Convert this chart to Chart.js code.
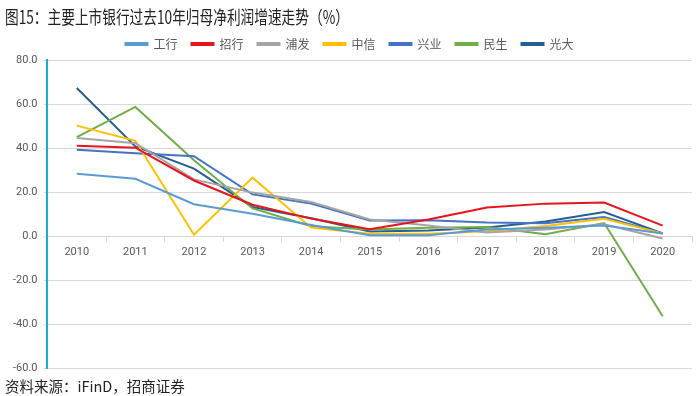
<!DOCTYPE html>
<html>
<head>
<meta charset="utf-8">
<style>
    body { margin: 0; width: 700px; height: 396px; background: #fff; position: relative; overflow: hidden; font-family: "Noto Sans CJK SC", "Noto Sans", sans-serif; }
    #title { position: absolute; left: 5px; top: 3px; font-size: 18px; color: #222; transform: scaleX(0.76); transform-origin: left top; white-space: nowrap; }
    #source { position: absolute; left: 5px; top: 375px; font-size: 14.5px; color: #222; white-space: nowrap; }
    #chartBox { position: absolute; left: 0; top: 24px; width: 700px; height: 357px; }
</style>
</head>
<body>
<div id="chartBox"><canvas id="profitChart"></canvas></div>
<div id="title">图15：主要上市银行过去10年归母净利润增速走势（%）</div>
<div id="source">资料来源：iFinD，招商证券</div>
<script src="https://cdn.jsdelivr.net/npm/chart.js"></script>
<script>
    var years = ['2010', '2011', '2012', '2013', '2014', '2015', '2016', '2017', '2018', '2019', '2020'];
    var icbc = [28.4, 26.1, 14.5, 10.2, 5.1, 0.5, 0.4, 3.0, 3.9, 4.9, 1.2];       // 工行
    var cmb = [41.1, 40.2, 25.3, 14.3, 8.0, 3.2, 7.6, 13.0, 14.8, 15.3, 4.8];      // 招行
    var spdb = [44.6, 42.2, 25.8, 19.8, 15.5, 7.6, 4.9, 1.7, 3.1, 5.4, -1.0];     // 浦发
    var citic = [50.2, 43.3, 0.7, 26.6, 3.9, 1.1, 1.1, 2.3, 4.6, 7.9, 1.3];       // 中信
    var cib = [39.3, 37.7, 36.3, 19.0, 14.8, 7.1, 7.3, 6.2, 5.9, 8.7, 1.2];       // 兴业
    var cmbc = [45.0, 58.7, 34.5, 12.6, 4.5, 3.0, 3.8, 4.2, 0.9, 6.0, -36.3];     // 民生
    var ceb = [67.3, 40.8, 30.7, 13.3, 8.2, 2.2, 2.6, 4.0, 6.7, 11.0, 1.3];       // 光大

    function series(label, data, color) {
        return { label: label, data: data, borderColor: color, backgroundColor: color,
                 borderWidth: 2, pointRadius: 0, tension: 0, fill: false };
    }

    var ctx = document.getElementById('profitChart').getContext('2d');
    new Chart(ctx, {
        type: 'line',
        data: {
            labels: years,
            datasets: [
                series('工行', icbc, '#5B9BD5'),
                series('招行', cmb, '#E8141B'),
                series('浦发', spdb, '#A5A5A5'),
                series('中信', citic, '#FFC000'),
                series('兴业', cib, '#4472C4'),
                series('民生', cmbc, '#70AD47'),
                series('光大', ceb, '#255E91')
            ]
        },
        options: {
            responsive: true,
            maintainAspectRatio: false,
            animation: false,
            layout: { padding: { left: 7, right: 8, top: 0, bottom: 4 } },
            plugins: {
                legend: {
                    position: 'top',
                    labels: {
                        boxWidth: 22, boxHeight: 2, padding: 14,
                        color: '#595959',
                        font: { size: 12, family: '"Noto Sans CJK SC", sans-serif' }
                    }
                },
                tooltip: { enabled: false }
            },
            scales: {
                x: {
                    position: { y: 0 },
                    offset: true,
                    grid: { offset: true, drawOnChartArea: false, drawTicks: true, tickLength: 5, color: '#D9D9D9' },
                    border: { color: '#D9D9D9' },
                    ticks: { color: '#595959', font: { size: 11, family: 'Roboto, sans-serif' }, padding: 4, maxRotation: 0 }
                },
                y: {
                    min: -60, max: 80,
                    ticks: {
                        stepSize: 20, color: '#595959', padding: 6,
                        font: { size: 11, family: 'Roboto, sans-serif' },
                        callback: function (v) { return v.toFixed(1); }
                    },
                    grid: { color: '#D9D9D9', tickLength: 4 },
                    border: { color: '#1FA8D8', width: 2 }
                }
            }
        }
    });
</script>
</body>
</html>
